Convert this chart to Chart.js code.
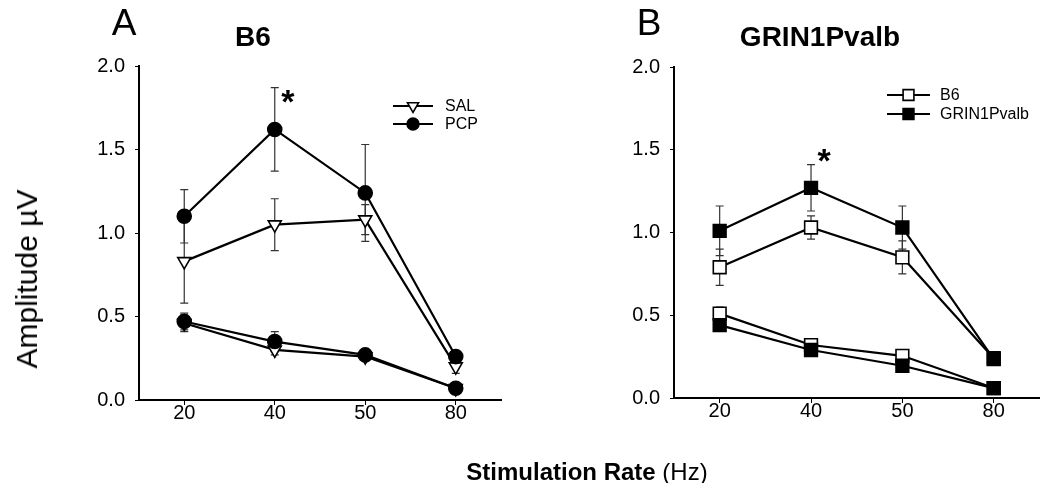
<!DOCTYPE html>
<html>
<head>
<meta charset="utf-8">
<script src="https://cdn.jsdelivr.net/npm/chart.js@4.4.1/dist/chart.umd.min.js"></script>
<style>
  body { margin: 0; width: 1050px; height: 483px; background: #fff; position: relative; overflow: hidden;
         font-family: 'Liberation Sans', Arial, sans-serif; color: #000; }
  .box { position: absolute; top: 0; width: 520px; height: 483px; }
  .lbl { position: absolute; white-space: nowrap; line-height: 1; transform: translate(-50%, -50%); }
</style>
</head>
<body>
<div class="box" style="left:0"><canvas id="chartA" width="520" height="483"></canvas></div>
<div class="box" style="left:530px"><canvas id="chartB" width="520" height="483"></canvas></div>

<div class="lbl" style="left:124px;top:22px;font-size:37px">A</div>
<div class="lbl" style="left:649px;top:22px;font-size:37px">B</div>
<div class="lbl" style="left:253px;top:37px;font-size:28px;font-weight:bold">B6</div>
<div class="lbl" style="left:820px;top:37px;font-size:28px;font-weight:bold">GRIN1Pvalb</div>
<div class="lbl" style="left:27px;top:279px;font-size:30px;transform:translate(-50%,-50%) rotate(-90deg)">Amplitude µV</div>
<div class="lbl" style="left:587px;top:472px;font-size:24px"><b>Stimulation Rate</b> (Hz)</div>

<script>
// stimulation rates (Hz), shown as equally spaced categories
const rates = ['20', '40', '50', '80'];
const yTicks = [0, 0.5, 1.0, 1.5, 2.0];

// panel A: B6 mice, saline vs PCP (upper and lower response curves)
const salHigh    = [0.83, 1.05, 1.08, 0.20];
const salHighErr = [0.25, 0.155, 0.09, 0.04];
const pcpHigh    = [1.10, 1.62, 1.24, 0.26];
const pcpHighErr = [0.16, 0.25, 0.29, 0.03];
const salLow     = [0.46, 0.30, 0.26, 0.07];
const salLowErr  = [0.05, 0.03, 0.02, 0.01];
const pcpLow     = [0.47, 0.35, 0.27, 0.07];
const pcpLowErr  = [0.05, 0.06, 0.02, 0.01];

// panel B: B6 vs GRIN1Pvalb
const b6High     = [0.79, 1.03, 0.85, 0.24];
const b6HighErr  = [0.11, 0.07, 0.10, 0.02];
const grHigh     = [1.01, 1.27, 1.03, 0.235];
const grHighErr  = [0.15, 0.14, 0.13, 0.02];
const b6Low      = [0.51, 0.32, 0.255, 0.06];
const b6LowErr   = [0.04, 0.02, 0.02, 0.01];
const grLow      = [0.44, 0.29, 0.195, 0.06];
const grLowErr   = [0.03, 0.02, 0.02, 0.01];

// significance stars: [category index, value]
const starA = [1, 1.82];
const starB = [1, 1.47];

const FONT = "'Liberation Sans', Arial, sans-serif";

// error bars, drawn under the markers
const errorBars = {
  id: 'errorBars',
  beforeDatasetsDraw(chart) {
    const ctx = chart.ctx, xs = chart.scales.x, ys = chart.scales.y;
    ctx.save();
    ctx.strokeStyle = '#333';
    ctx.lineWidth = 1.2;
    chart.data.datasets.forEach(ds => {
      ds.data.forEach((v, i) => {
        const e = ds.errors[i];
        const px = xs.getPixelForValue(i);
        const hi = ys.getPixelForValue(v + e), lo = ys.getPixelForValue(v - e);
        ctx.beginPath();
        ctx.moveTo(px, hi); ctx.lineTo(px, lo);
        ctx.moveTo(px - 4, hi); ctx.lineTo(px + 4, hi);
        ctx.moveTo(px - 4, lo); ctx.lineTo(px + 4, lo);
        ctx.stroke();
      });
    });
    ctx.restore();
  }
};

// legend: short line with the marker in its middle
const lineLegend = {
  id: 'lineLegend',
  afterDraw(chart, args, opts) {
    const ctx = chart.ctx;
    const items = chart.data.datasets.filter(d => d.inLegend);
    items.sort((a, b) => a.legendRow - b.legendRow);
    ctx.save();
    items.forEach((ds, k) => {
      const y = opts.rows[k];
      ctx.strokeStyle = '#000';
      ctx.lineWidth = 2;
      ctx.beginPath(); ctx.moveTo(opts.x0, y); ctx.lineTo(opts.x1, y); ctx.stroke();
      ctx.fillStyle = ds.pointBackgroundColor;
      ctx.strokeStyle = ds.pointBorderColor;
      ctx.lineWidth = ds.pointBorderWidth;
      Chart.helpers.drawPoint(ctx, {
        pointStyle: ds.pointStyle, radius: ds.pointRadius * 0.85,
        rotation: ds.pointRotation || 0, borderWidth: ds.pointBorderWidth
      }, (opts.x0 + opts.x1) / 2, y);
      ctx.fillStyle = '#000';
      ctx.font = '16px ' + FONT;
      ctx.textBaseline = 'middle';
      ctx.fillText(ds.label, opts.textX, y + 1);
    });
    ctx.restore();
  }
};

const star = {
  id: 'star',
  afterDraw(chart, args, opts) {
    const ctx = chart.ctx;
    const px = chart.scales.x.getPixelForValue(opts.at[0]) + opts.dx;
    const py = chart.scales.y.getPixelForValue(opts.at[1]);
    ctx.save();
    ctx.fillStyle = '#000';
    ctx.font = 'bold 34px ' + FONT;
    ctx.textAlign = 'center';
    ctx.textBaseline = 'middle';
    ctx.fillText('*', px, py + 8);
    ctx.restore();
  }
};

function series(label, data, errors, style, filled, radius, rotation, legendRow) {
  return {
    label: label, data: data, errors: errors,
    borderColor: '#000', borderWidth: 2.2, tension: 0,
    pointStyle: style, pointRadius: radius, pointRotation: rotation || 0,
    pointBackgroundColor: filled ? '#000' : '#fff',
    pointBorderColor: '#000', pointBorderWidth: 1.6,
    inLegend: legendRow !== undefined, legendRow: legendRow
  };
}

function makeChart(id, datasets, pad, xHeight, yWidth, legendOpts, starAt) {
  return new Chart(document.getElementById(id), {
    type: 'line',
    data: { labels: rates, datasets: datasets },
    plugins: [errorBars, lineLegend, star],
    options: {
      responsive: false,
      animation: false,
      events: [],
      layout: { padding: pad },
      plugins: {
        legend: { display: false },
        tooltip: { enabled: false },
        lineLegend: legendOpts,
        star: { at: starAt, dx: 13 }
      },
      scales: {
        x: {
          type: 'category',
          offset: true,
          afterFit: s => { s.height = xHeight; },
          grid: { offset: false, drawOnChartArea: false, drawTicks: true, tickLength: 5, color: '#000', lineWidth: 1 },
          border: { display: true, color: '#000', width: 2 },
          ticks: { color: '#000', font: { family: FONT, size: 20 }, padding: -4, maxRotation: 0 }
        },
        y: {
          min: 0, max: 2,
          afterFit: s => { s.width = yWidth; },
          afterBuildTicks: s => { s.ticks = yTicks.map(v => ({ value: v })); },
          grid: { drawOnChartArea: false, drawTicks: true, tickLength: 4, color: '#000', lineWidth: 1 },
          border: { display: true, color: '#000', width: 2 },
          ticks: { color: '#000', font: { family: FONT, size: 20 }, padding: 10,
                   callback: v => v.toFixed(1) }
        }
      }
    }
  });
}

makeChart('chartA', [
  series('PCP', pcpHigh, pcpHighErr, 'circle', true, 7, 0, 1),
  series('SAL', salHigh, salHighErr, 'triangle', false, 7.5, 180, 0),
  series('PCP', pcpLow, pcpLowErr, 'circle', true, 7, 0),
  series('SAL', salLow, salLowErr, 'triangle', false, 7.5, 180)
], { left: 0, top: 66, right: 19, bottom: 0 }, 83, 139,
  { x0: 393, x1: 433, rows: [106, 124], textX: 445 }, starA);

makeChart('chartB', [
  series('GRIN1Pvalb', grHigh, grHighErr, 'rect', true, 9, 0, 1),
  series('B6', b6High, b6HighErr, 'rect', false, 9, 0, 0),
  series('GRIN1Pvalb', grLow, grLowErr, 'rect', true, 9, 0),
  series('B6', b6Low, b6LowErr, 'rect', false, 9, 0)
], { left: 0, top: 67, right: 8, bottom: 0 }, 85, 144,
  { x0: 357, x1: 400, rows: [95, 114], textX: 410 }, starB);
</script>
</body>
</html>
